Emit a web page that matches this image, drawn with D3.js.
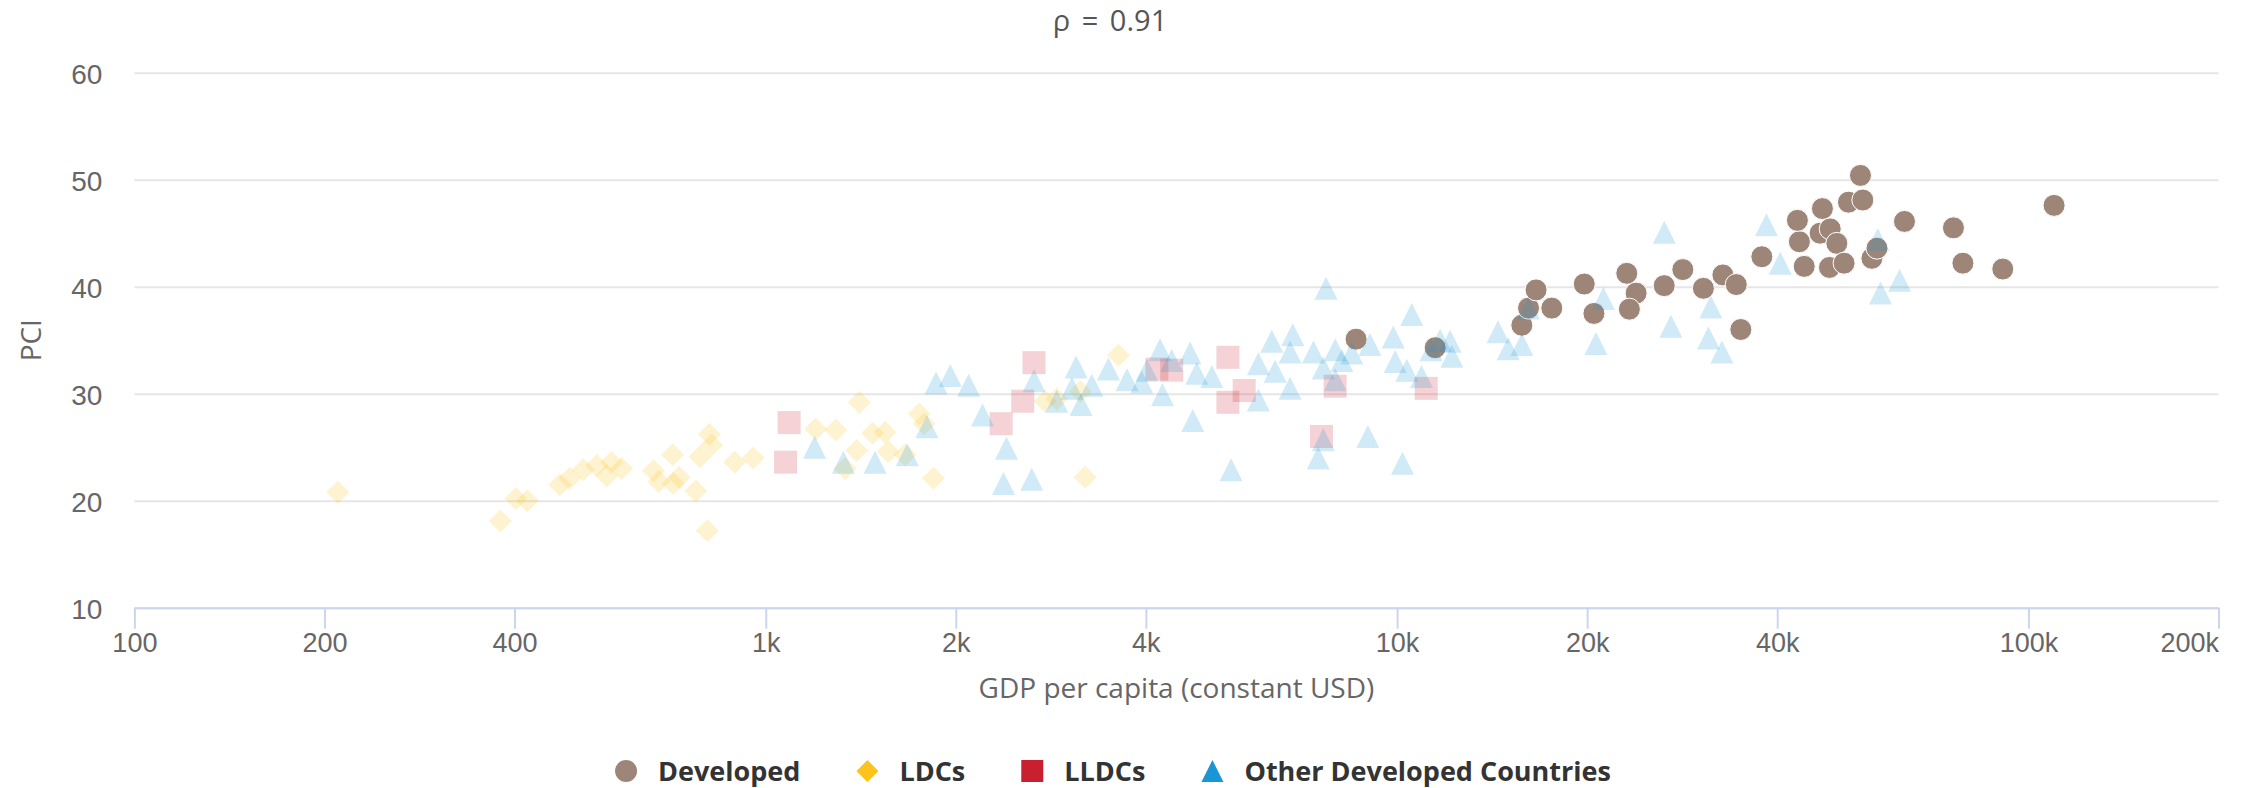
<!DOCTYPE html>
<html>
<head>
<meta charset="utf-8">
<script src="https://cdnjs.cloudflare.com/ajax/libs/d3/7.8.5/d3.min.js"></script>
<style>
  html, body { margin: 0; padding: 0; background: #fff; }
  svg { display: block; font-family: "Open Sans", "Liberation Sans", sans-serif; }
</style>
</head>
<body>
<div id="container"></div>
<script>
// --- data: [GDP per capita (constant USD), PCI] ---
const developed = [
  [8610, 35.1], [11490, 34.3], [15760, 36.4], [16150, 38.0], [16600, 39.7],
  [17580, 38.0], [19790, 40.25], [20500, 37.5], [23110, 41.25], [23910, 39.4],
  [23330, 37.9], [26490, 40.1], [28350, 41.6], [30560, 39.85], [32810, 41.1],
  [34450, 40.2], [35030, 36.0], [37820, 42.8], [43370, 44.2], [44140, 41.9],
  [43060, 46.2], [47170, 47.3], [46770, 45.0], [48530, 45.4], [49720, 44.05],
  [48400, 41.8], [51050, 42.2], [51870, 47.9], [54660, 48.1], [54190, 50.4],
  [56500, 42.65], [57550, 43.6], [63630, 46.1], [76070, 45.5], [78740, 42.2],
  [91060, 41.65], [109800, 47.6]
];
const ldcs = [
  [210, 20.8], [380, 18.1], [402, 20.2], [419, 20.0], [472, 21.5],
  [489, 22.1], [514, 22.9], [540, 23.3], [560, 22.3], [570, 23.6],
  [591, 23.0], [664, 22.8], [677, 21.8], [712, 24.3], [714, 21.6],
  [729, 22.2], [775, 20.9], [787, 24.1], [814, 26.2], [821, 25.2],
  [808, 17.2], [893, 23.6], [955, 24.0], [1200, 26.7], [1291, 26.6],
  [1407, 29.2], [1477, 26.3], [1545, 26.4], [1393, 24.7], [1563, 24.6],
  [1336, 23.0], [1663, 24.3], [1751, 28.1], [1782, 27.2], [1843, 22.1],
  [2770, 29.3], [2890, 29.5], [3150, 30.2], [3620, 33.6], [3205, 22.2]
];
const lldcs = [
  [1089, 27.3], [1075, 23.6], [2360, 27.2], [2553, 29.3], [2660, 32.9],
  [4164, 32.3], [4396, 32.2], [5395, 33.4], [5725, 30.3], [5395, 29.2],
  [7590, 26.0], [7977, 30.7], [11120, 30.5]
];
const otherDeveloped = [
  [1195, 25.0], [1327, 23.6], [1490, 23.6], [1676, 24.3], [1800, 26.9],
  [1861, 31.0], [1960, 31.7], [2096, 30.8], [2205, 28.0], [2406, 24.9],
  [2380, 21.6], [2638, 22.0], [2660, 31.2], [2890, 29.3], [3102, 32.5],
  [3055, 30.5], [3157, 29.0], [3284, 30.8], [3490, 32.3], [3735, 31.3],
  [4015, 32.2], [4213, 34.1], [4396, 33.1], [3940, 31.1], [4250, 29.9],
  [4700, 33.8], [4816, 31.9], [5088, 31.6], [4746, 27.5], [5458, 22.9],
  [6030, 29.4], [6030, 32.8], [6332, 34.9], [6410, 32.1], [6768, 30.5],
  [6835, 35.5], [6768, 33.9], [7370, 33.9], [7718, 39.85], [7980, 34.1],
  [7640, 32.4], [8175, 33.1], [8475, 33.8], [9057, 34.6], [7980, 31.3],
  [7640, 25.7], [7500, 24.0], [8990, 26.0], [10200, 23.5], [9860, 35.3],
  [9930, 33.0], [10550, 37.4], [10360, 32.2], [10930, 31.6], [11700, 35.0],
  [12130, 34.9], [12210, 33.5], [11320, 34.1], [14450, 35.8], [15000, 34.2],
  [15760, 34.6], [16150, 38.0], [21220, 38.9], [20650, 34.7], [27140, 36.3],
  [31400, 38.1], [31130, 35.2], [32690, 33.9], [40440, 42.2], [26500, 45.1],
  [38460, 45.8], [57730, 44.4], [62500, 40.6], [58300, 39.4]
];

const seriesNames = ['Developed', 'LDCs', 'LLDCs', 'Other Developed Countries'];
const seriesColors = ['#9d8678', '#fbc31b', '#c8202f', '#1a95d5'];
const seriesSymbols = ['circle', 'diamond', 'square', 'triangle'];
const seriesData = [developed, ldcs, lldcs, otherDeveloped];

const xTicks = [100, 200, 400, 1000, 2000, 4000, 10000, 20000, 40000, 100000, 200000];
const xTickLabels = ['100', '200', '400', '1k', '2k', '4k', '10k', '20k', '40k', '100k', '200k'];
const yTicks = [10, 20, 30, 40, 50, 60];

const titleText = 'ρ = 0.91';
const xTitle = 'GDP per capita (constant USD)';
const yTitle = 'PCI';

// --- layout ---
const width = 2244;
const height = 788;
const plot = { left: 134.4, right: 2218.5, top: 72.7, bottom: 607.7 };
const r = 11.5;

const svg = d3.select('#container')
  .append('svg')
  .attr('width', width)
  .attr('height', height);

const x = d3.scaleLog().domain([100, 200000]).range([plot.left, plot.right]);
const y = d3.scaleLinear().domain([10, 60]).range([plot.bottom, plot.top]);

// grid + y labels
const yAxis = svg.append('g')
  .attr('transform', `translate(${plot.left},0)`)
  .call(d3.axisLeft(y)
    .tickValues(yTicks)
    .tickSize(-(plot.right - plot.left))
    .tickPadding(32)
    .tickFormat(d3.format('d')));
yAxis.select('.domain').remove();
yAxis.selectAll('.tick line').attr('stroke', '#e6e6e6').attr('stroke-width', 2);
yAxis.selectAll('.tick text')
  .attr('fill', '#666666')
  .style('font-size', '28px')
  .attr('dy', '0.38em');

// x axis
const xAxis = svg.append('g')
  .attr('transform', `translate(0,${plot.bottom})`)
  .call(d3.axisBottom(x)
    .tickValues(xTicks)
    .tickSize(21)
    .tickSizeOuter(0)
    .tickPadding(4)
    .tickFormat((d, i) => xTickLabels[i]));
xAxis.select('.domain').attr('stroke', '#ccd6eb').attr('stroke-width', 2);
xAxis.selectAll('.tick line').attr('stroke', '#ccd6eb').attr('stroke-width', 2);
xAxis.selectAll('.tick text')
  .attr('fill', '#666666')
  .style('font-size', '27px');
xAxis.selectAll('.tick text')
  .filter((d, i) => i === xTicks.length - 1)
  .attr('text-anchor', 'end');

// symbols
function symbolPath(type, s) {
  if (type === 'diamond') return `M0,${-s}L${s},0L0,${s}L${-s},0Z`;
  if (type === 'square') return `M${-s},${-s}H${s}V${s}H${-s}Z`;
  if (type === 'triangle') return `M0,${-s}L${s},${s}H${-s}Z`;
  return d3.symbol(d3.symbolCircle, Math.PI * s * s)();
}

seriesData.forEach((data, k) => {
  const g = svg.append('g').attr('class', 'series');
  g.selectAll('path')
    .data(data)
    .enter()
    .append('path')
    .attr('transform', d => `translate(${x(d[0])},${y(d[1])})`)
    .attr('d', symbolPath(seriesSymbols[k], k === 0 ? 11 : r))
    .attr('fill', seriesColors[k])
    .attr('fill-opacity', k === 0 ? 1 : 0.2)
    .attr('stroke', k === 0 ? '#ffffff' : 'none')
    .attr('stroke-width', 1);
});

// titles
svg.append('text')
  .attr('x', 1110)
  .attr('y', 31)
  .attr('text-anchor', 'middle')
  .attr('fill', '#555555')
  .style('font-size', '29px')
  .style('word-spacing', '4px')
  .text(titleText);

svg.append('text')
  .attr('x', (plot.left + plot.right) / 2)
  .attr('y', 698)
  .attr('text-anchor', 'middle')
  .attr('fill', '#666666')
  .style('font-size', '28px')
  .text(xTitle);

svg.append('text')
  .attr('transform', `translate(41,${(plot.top + plot.bottom) / 2}) rotate(-90)`)
  .attr('text-anchor', 'middle')
  .attr('fill', '#666666')
  .style('font-size', '28px')
  .text(yTitle);

// legend
const legend = svg.append('g').attr('class', 'legend');
let cursor = 0;
seriesNames.forEach((name, k) => {
  const item = legend.append('g').attr('transform', `translate(${cursor},0)`);
  item.append('path')
    .attr('d', symbolPath(seriesSymbols[k], 11))
    .attr('fill', seriesColors[k]);
  const t = item.append('text')
    .attr('x', 32)
    .attr('y', 10)
    .attr('fill', '#333333')
    .style('font-size', '27px')
    .style('font-weight', 'bold')
    .text(name);
  cursor += 32 + t.node().getComputedTextLength() + 67;
});
const legendWidth = cursor - 67 + 11;
legend.attr('transform', `translate(${1113 - legendWidth / 2 + 11},771)`);
</script>
</body>
</html>
